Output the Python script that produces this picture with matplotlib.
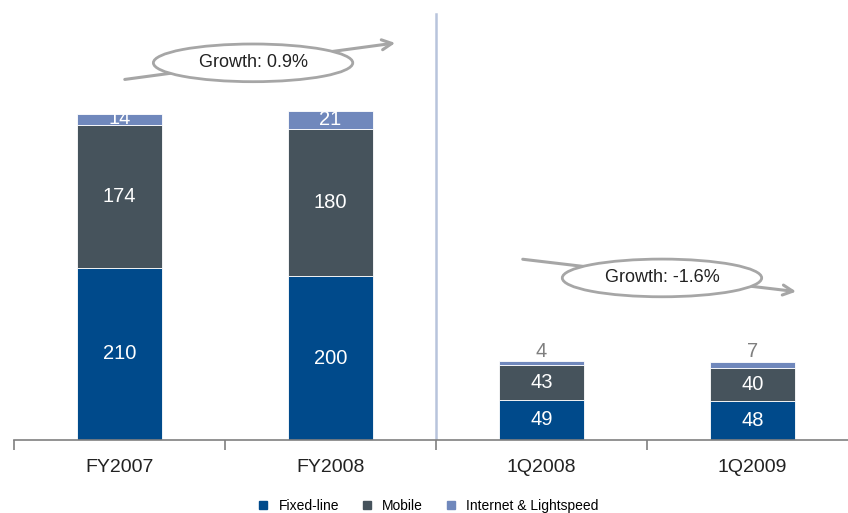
import matplotlib.pyplot as plt
from matplotlib.patches import Ellipse
from matplotlib.lines import Line2D

categories = ['FY2007', 'FY2008', '1Q2008', '1Q2009']
fixed_line = [210, 200, 49, 48]
mobile = [174, 180, 43, 40]
internet = [14, 21, 4, 7]
growth_labels = ['Growth: 0.9%', 'Growth: -1.6%']

c_fixed = '#004a8b'
c_mobile = '#46535c'
c_inet = '#7088bc'
c_grey = '#a6a6a6'

plt.rcParams['font.family'] = ['Liberation Sans', 'DejaVu Sans']

fig = plt.figure(figsize=(8.48, 5.13), dpi=100)
ax = fig.add_axes([14 / 848, 73 / 513, 844 / 848, 440 / 513])

x = range(len(categories))
w = 0.4
bot2 = [a + b for a, b in zip(fixed_line, mobile)]
ax.bar(x, fixed_line, w, color=c_fixed, edgecolor='white', linewidth=0.6, label='Fixed-line')
ax.bar(x, mobile, w, bottom=fixed_line, color=c_mobile, edgecolor='white', linewidth=0.6, label='Mobile')
ax.bar(x, internet, w, bottom=bot2, color=c_inet, edgecolor='white', linewidth=0.6,
       label='Internet & Lightspeed')

# value labels
for i in x:
    ax.text(i, fixed_line[i] / 2, str(fixed_line[i]), ha='center', va='center',
            color='white', fontsize=14.5)
    ax.text(i, fixed_line[i] + mobile[i] / 2, str(mobile[i]), ha='center', va='center',
            color='white', fontsize=14.5)
    if i < 2:
        ax.text(i, bot2[i] + internet[i] / 2 + 1, str(internet[i]), ha='center', va='center',
                color='white', fontsize=14.5)
    else:
        ax.text(i, bot2[i] + internet[i] + 1, str(internet[i]), ha='center', va='bottom',
                color='#7f7f7f', fontsize=14.5)

ax.set_xlim(-0.5, 3.5)
ax.set_ylim(0, 537)

# divider between annual and quarterly
ax.plot([1.5, 1.5], [0, 520], color='#b8c4dc', lw=1.8, zorder=0)

# growth arrows with ellipses
arrows = [((0.012, 439.6), (1.32, 485)), ((1.898, 221), (3.22, 180.7))]
centres = [(0.633, 460.3), (2.571, 197.8)]
for (p0, p1), (cx, cy), lab in zip(arrows, centres, growth_labels):
    ax.annotate('', xy=p1, xytext=p0,
                arrowprops=dict(arrowstyle='->', color=c_grey, lw=2.2,
                                mutation_scale=18), zorder=3)
    ax.add_patch(Ellipse((cx, cy), 0.945, 46, facecolor='white', edgecolor=c_grey,
                         lw=2, zorder=4))
    ax.text(cx, cy, lab, ha='center', va='center', fontsize=13, color='#222222', zorder=5)

for s in ['top', 'right', 'left']:
    ax.spines[s].set_visible(False)
ax.spines['bottom'].set_color('#808080')
ax.spines['bottom'].set_linewidth(1.2)
ax.set_yticks([])
ax.set_xticks(list(x))
ax.set_xticklabels(categories, fontsize=14, color='#222222')
ax.tick_params(axis='x', which='major', length=0, pad=14)
ax.set_xticks([-0.5, 0.5, 1.5, 2.5, 3.5], minor=True)
ax.tick_params(axis='x', which='minor', length=7, width=1.2, color='#808080', direction='out')

handles = [Line2D([], [], marker='s', ls='', color=c, markersize=6)
           for c in [c_fixed, c_mobile, c_inet]]
fig.legend(handles, ['Fixed-line', 'Mobile', 'Internet & Lightspeed'], loc='center',
           bbox_to_anchor=(0.5, 0.013), ncol=3, frameon=False, fontsize=10,
           handletextpad=0.1, columnspacing=1.0)

fig.savefig('out.png', dpi=100)
